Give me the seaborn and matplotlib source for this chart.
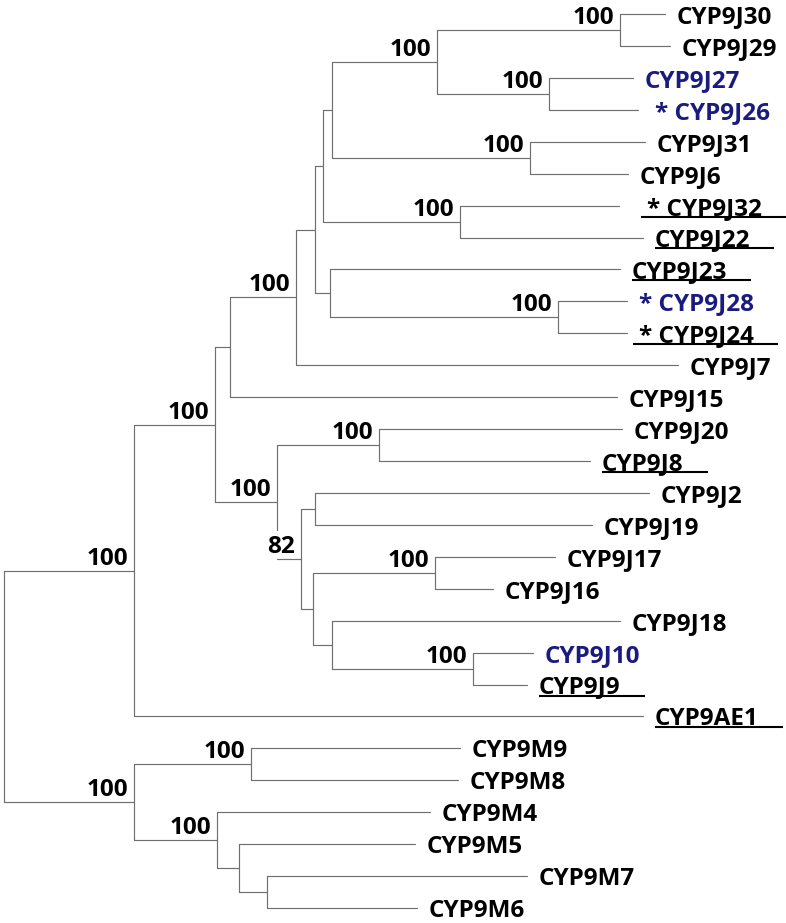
import numpy as np
import pandas as pd
import matplotlib
matplotlib.use("Agg")
import matplotlib.pyplot as plt
import matplotlib.transforms as mtransforms
import seaborn as sns

# ---------------- data ----------------
leaf_names = ["CYP9J30", "CYP9J29", "CYP9J27", "CYP9J26", "CYP9J31", "CYP9J6",
              "CYP9J32", "CYP9J22", "CYP9J23", "CYP9J28", "CYP9J24", "CYP9J7",
              "CYP9J15", "CYP9J20", "CYP9J8", "CYP9J2", "CYP9J19", "CYP9J17",
              "CYP9J16", "CYP9J18", "CYP9J10", "CYP9J9", "CYP9AE1", "CYP9M9",
              "CYP9M8", "CYP9M4", "CYP9M5", "CYP9M7", "CYP9M6"]
leaf_depth = [665, 670, 633, 638, 645, 628, 619, 643, 620, 627, 627, 678,
              617, 622, 590, 649, 592, 555, 493, 620, 533, 527, 643, 460,
              458, 430, 415, 527, 417]
starred = ["CYP9J26", "CYP9J32", "CYP9J28", "CYP9J24"]
highlighted = ["CYP9J27", "CYP9J26", "CYP9J28", "CYP9J10"]
underlined = ["CYP9J32", "CYP9J22", "CYP9J23", "CYP9J24", "CYP9J8", "CYP9J9", "CYP9AE1"]

node_ids = ["root", "A", "B", "C", "D", "E", "F", "G", "H", "I", "J", "K", "L",
            "M", "N", "O", "P", "Q", "R", "T", "S", "U", "V",
            "MB", "MA", "MC", "MD", "ME"]
node_children = [["A", "MB"], ["B", "CYP9AE1"], ["C", "O"], ["D", "CYP9J15"],
                 ["E", "CYP9J7"], ["F", "M"], ["G", "L"], ["H", "K"], ["I", "J"],
                 ["CYP9J30", "CYP9J29"], ["CYP9J27", "CYP9J26"], ["CYP9J31", "CYP9J6"],
                 ["CYP9J32", "CYP9J22"], ["CYP9J23", "N"], ["CYP9J28", "CYP9J24"],
                 ["P", "Q"], ["CYP9J20", "CYP9J8"], ["R", "T"], ["CYP9J2", "CYP9J19"],
                 ["S", "U"], ["CYP9J17", "CYP9J16"], ["CYP9J18", "V"], ["CYP9J10", "CYP9J9"],
                 ["MA", "MC"], ["CYP9M9", "CYP9M8"], ["CYP9M4", "MD"], ["CYP9M5", "ME"],
                 ["CYP9M7", "CYP9M6"]]
node_depth = [4, 134, 215, 230, 296, 315, 323, 332, 437, 620, 549, 530, 460,
              330, 558, 277, 379, 301, 315, 313, 435, 332, 473,
              134, 251, 217, 239, 267]
node_support = [None, 100, 100, None, 100, None, None, None, 100, 100, 100, 100, 100,
                None, 100, 100, 100, 82, None, None, 100, None, 100,
                100, 100, 100, None, None]

# ---------------- layout ----------------
xpos = dict(zip(leaf_names, leaf_depth))
ypos = {n: i for i, n in enumerate(leaf_names)}
xpos.update(dict(zip(node_ids, node_depth)))
children = dict(zip(node_ids, node_children))


def place(n):
    if n in ypos:
        return ypos[n]
    ys = [place(c) for c in children[n]]
    ypos[n] = (ys[0] + ys[-1]) / 2.0
    return ypos[n]


place("root")

vrows, hrows = [], []
for n in node_ids:
    ch = children[n]
    vrows += [(n, xpos[n], ypos[ch[0]]), (n, xpos[n], ypos[ch[-1]])]
    for c in ch:
        hrows += [(n + c, xpos[n], ypos[c]), (n + c, xpos[c], ypos[c])]
vdf = pd.DataFrame(vrows, columns=["seg", "x", "y"])
hdf = pd.DataFrame(hrows, columns=["seg", "x", "y"])

# ---------------- draw ----------------
sns.set_style("white")
plt.rcParams["font.family"] = ["Open Sans", "DejaVu Sans"]

W, H = 786, 923
fig = plt.figure(figsize=(W / 100, H / 100), dpi=100)
ax = fig.add_axes([0, 0, 1, 1])

line_col = "#6f6f6f"
sns.lineplot(data=vdf, x="x", y="y", units="seg", estimator=None, sort=False,
             color=line_col, lw=0.85, ax=ax, zorder=2, legend=False)
sns.lineplot(data=hdf, x="x", y="y", units="seg", estimator=None, sort=False,
             color=line_col, lw=0.85, ax=ax, zorder=4, legend=False)

spacing = (908 - 14) / (len(leaf_names) - 1)
ax.set_xlim(0, W)
ax.set_ylim(28 + (H - 908) / spacing, -14 / spacing)
ax.set_axis_off()


def off(dx, dy):
    return mtransforms.offset_copy(ax.transData, fig=fig, x=dx, y=dy, units="dots")


FS = 17.5
label_gap = 12
extra_gap = {"CYP9J32": 16, "CYP9J26": 5}
texts = {}
for n in leaf_names:
    s = ("* " + n) if n in starred else n
    col = "#1a1a80" if n in highlighted else "black"
    t = ax.text(xpos[n], ypos[n], s, transform=off(label_gap + extra_gap.get(n, 0), -9),
                ha="left", va="baseline", fontsize=FS, fontweight="bold", color=col, zorder=5)
    texts[n] = t

for n, sup in zip(node_ids, node_support):
    if sup is None:
        continue
    ax.text(xpos[n], ypos[n], str(sup), transform=off(-6, 6), ha="right", va="baseline",
            fontsize=FS, fontweight="bold", color="black", zorder=3,
            bbox=dict(boxstyle="square,pad=0.15", fc="white", ec="none"))

# underlines
fig.canvas.draw()
r = fig.canvas.get_renderer()
inv = ax.transData.inverted()
for n in underlined:
    bb = texts[n].get_window_extent(r)
    x0 = bb.x0 - (6 if n in starred else 0)
    x1 = bb.x1 + 24
    yd = ax.transData.transform((0, ypos[n]))[1] - 11
    (a0, yy), (a1, _) = inv.transform([(x0, yd), (x1, yd)])
    ax.plot([a0, a1], [yy, yy], color="black", lw=1.5, zorder=5, solid_capstyle="butt")

fig.savefig("out.png", dpi=100, facecolor="white")
